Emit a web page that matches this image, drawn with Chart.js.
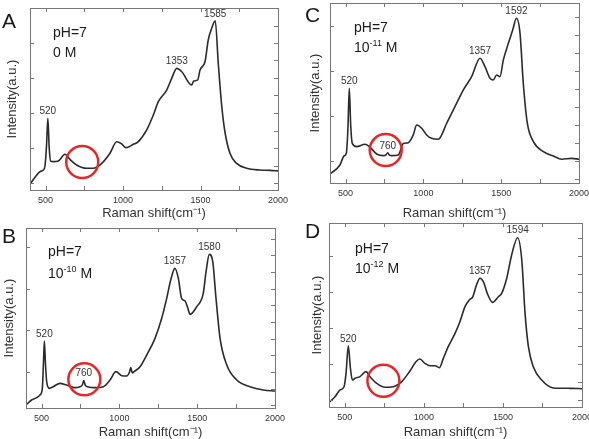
<!DOCTYPE html>
<html>
<head>
<meta charset="utf-8">
<script src="https://cdn.jsdelivr.net/npm/chart.js@4.4.1/dist/chart.umd.min.js"></script>
<style>
  body { margin: 0; background: #fff; font-family: "Liberation Sans", Arial, sans-serif; }
  #fig { position: relative; width: 589px; height: 439px; overflow: hidden; background: #fff; }
  .panel { position: absolute; }
  .lbl { position: absolute; line-height: 1; color: #1a1a1a; white-space: nowrap; }
  .letter { font-size: 21px; }
  .note { font-size: 14px; }
  .note sup { font-size: 9px; vertical-align: baseline; position: relative; top: -6px; }
</style>
</head>
<body>
<div id="fig">
  <div class="panel" style="left:0;top:0;width:289px;height:220px"><canvas id="chartA"></canvas></div>
  <div class="panel" style="left:290px;top:0;width:299px;height:220px"><canvas id="chartC"></canvas></div>
  <div class="panel" style="left:0;top:220px;width:289px;height:219px"><canvas id="chartB"></canvas></div>
  <div class="panel" style="left:290px;top:220px;width:299px;height:219px"><canvas id="chartD"></canvas></div>

  <div class="lbl letter" style="left:2px;top:10px">A</div>
  <div class="lbl note" style="left:53px;top:25px">pH=7</div>
  <div class="lbl note" style="left:53px;top:45px">0 M</div>

  <div class="lbl letter" style="left:305px;top:4px">C</div>
  <div class="lbl note" style="left:354px;top:20px">pH=7</div>
  <div class="lbl note" style="left:354px;top:40px">10<sup>-11</sup> M</div>

  <div class="lbl letter" style="left:2px;top:225px">B</div>
  <div class="lbl note" style="left:48px;top:244px">pH=7</div>
  <div class="lbl note" style="left:48px;top:266px">10<sup>-10</sup> M</div>

  <div class="lbl letter" style="left:305px;top:220px">D</div>
  <div class="lbl note" style="left:355px;top:241px">pH=7</div>
  <div class="lbl note" style="left:355px;top:261px">10<sup>-12</sup> M</div>
</div>
<script>
// Raman shift (cm-1) and intensity (a.u.)
const shiftA = [400,465,486,497,507,515,524,533,550,583,626,658,701,766,808,852,916,959,992,1019,1067,1099,1153,1196,1228,1282,1314,1347,1379,1443,1456,1482,1497,1529,1550,1572,1595,1615,1637,1658,1690,1733,1798,1884,1950,2000];
const intA = [-0.6,6.5,7.4,10,22,37,20,12.5,12.2,12.6,16.4,13.5,10.3,8.4,8.4,10.3,17,23.6,22.3,20.2,22.1,23.6,30.3,38.9,46.5,53.1,59.8,65.5,63.6,56,58.3,58.9,64.6,69.3,81.7,88.4,92.7,68,44,29,17,11.2,8.4,7.4,7.2,6.9];

const shiftB = [400,436,469,490,505,512,518,525,533,550,575,618,661,715,747,762,771,782,794,843,897,940,978,1015,1047,1065,1073,1083,1094,1133,1176,1229,1272,1304,1330,1357,1379,1400,1422,1437,1454,1497,1539,1557,1578,1600,1621,1647,1690,1754,1839,1925,2000];
const intB = [-19.8,-16.8,-15.4,-13.8,-9.8,5,18.6,5,-5.8,-9.8,-8.8,-6.8,-7.8,-9.4,-8.8,-7.8,-5.2,-8.2,-8.8,-9.4,-8.8,-4.8,0.2,-2.2,-2.4,0,2.6,-0.5,0.2,3.2,10.2,20.2,32.2,44.2,55.2,62.2,56.2,44.2,42.6,39.2,34.6,39.2,47.2,60.2,70.6,66.2,44.2,20.2,4.2,-4.8,-8.8,-10.8,-11.4];

const shiftC = [400,464,490,505,515,524,533,543,571,625,653,700,743,760,771,783,796,839,871,903,935,957,989,1021,1053,1096,1150,1203,1257,1310,1364,1396,1428,1449,1471,1492,1514,1546,1574,1598,1621,1642,1668,1707,1771,1835,1889,1953,2000];
const intC = [-7,-2,3,4.5,18,40.6,20,10,8.2,9.5,8.2,4.1,3.2,3.6,4.8,3.4,3.2,3.6,10,10.4,14.7,20.2,18.4,14.7,12.8,12.3,21.2,30.4,39.7,47.1,57.3,52.6,46.2,45.2,48,47.1,56.4,65.6,73,79.5,71.2,43.4,21.2,11,5.4,3,1.2,1.7,1.2];

const shiftD = [400,438,470,495,508,522,535,548,565,596,634,659,702,754,807,860,912,950,975,1007,1039,1070,1098,1123,1154,1197,1228,1260,1287,1309,1334,1355,1376,1401,1435,1471,1492,1524,1555,1593,1619,1640,1661,1692,1745,1819,1926,2000];
const intD = [-1.4,1.7,5.5,7.3,15,30.1,18,11,12,12.9,15.7,12.9,9.2,7,7.3,10.1,16.1,21.2,22.7,20.3,19,19,17.9,23.1,29.6,37,43.5,51.9,55.6,57.4,64.3,67.7,65.8,59.3,54.3,57.4,59.3,67.7,80.7,90.3,78,48,29.6,18.4,11,6.6,6.4,6.2];

// peak labels and the red circle (x, intensity) per panel
const peaksA = [520, 1353, 1585];
const peaksB = [520, 760, 1357, 1580];
const peaksC = [520, 760, 1357, 1592];
const peaksD = [520, 1357, 1594];
const circleA = [737, 12];
const circleB = [775, -4.4];
const circleC = [758, 6.3];
const circleD = [744, 10.6];

const xLabels = [500, 1000, 1500, 2000];
const xMarks = [500, 750, 1000, 1250, 1500, 1750];

const FONT = '"Liberation Sans", Arial, sans-serif';

function framePlugin(leftTicks) {
  return {
    id: 'frame',
    afterDraw(chart) {
      const { ctx, chartArea: a, scales: { x, y } } = chart;
      ctx.save();
      ctx.strokeStyle = '#777';
      ctx.lineWidth = 1;
      ctx.strokeRect(Math.round(a.left) + 0.5, Math.round(a.top) + 0.5, Math.round(a.width), Math.round(a.height));
      ctx.beginPath();
      xMarks.forEach(v => {
        const px = Math.round(x.getPixelForValue(v)) + 0.5;
        ctx.moveTo(px, a.bottom); ctx.lineTo(px, a.bottom - 4);
        ctx.moveTo(px, a.top); ctx.lineTo(px, a.top + 4);
      });
      leftTicks.forEach(v => {
        const py = Math.round(y.getPixelForValue(v)) + 0.5;
        ctx.moveTo(a.left, py); ctx.lineTo(a.left + 4, py);
      });
      for (let v = Math.ceil(y.min / 10) * 10; v < y.max; v += 10) {
        const py = Math.round(y.getPixelForValue(v)) + 0.5;
        ctx.moveTo(a.right, py); ctx.lineTo(a.right - 4, py);
      }
      ctx.stroke();
      ctx.restore();
    }
  };
}

function markPlugin(peaks, circle) {
  return {
    id: 'marks',
    afterDraw(chart) {
      const { ctx, scales: { x, y } } = chart;
      const pts = chart.data.datasets[0].data;
      ctx.save();
      ctx.font = '10px ' + FONT;
      ctx.fillStyle = '#333';
      ctx.textAlign = 'center';
      ctx.textBaseline = 'bottom';
      peaks.forEach(p => {
        let best = null;
        pts.forEach(d => {
          if (Math.abs(d.x - p) <= 20 && (!best || d.y > best.y)) best = d;
        });
        ctx.fillText(String(p), x.getPixelForValue(best.x), y.getPixelForValue(best.y) - 2);
      });
      ctx.beginPath();
      ctx.arc(x.getPixelForValue(circle[0]), y.getPixelForValue(circle[1]), 16, 0, Math.PI * 2);
      ctx.strokeStyle = '#e6262b';
      ctx.lineWidth = 2.5;
      ctx.stroke();
      ctx.restore();
    }
  };
}

function makePanel(id, shift, inten, peaks, circle, cfg) {
  return new Chart(document.getElementById(id), {
    type: 'line',
    data: {
      datasets: [{
        data: shift.map((s, i) => ({ x: s, y: inten[i] })),
        borderColor: '#2b2b2b',
        borderWidth: 1.6,
        pointRadius: 0,
        cubicInterpolationMode: 'monotone'
      }]
    },
    options: {
      responsive: true,
      maintainAspectRatio: false,
      animation: false,
      layout: { padding: { top: cfg.padTop, right: cfg.padRight, left: 0, bottom: 0 } },
      plugins: { legend: { display: false }, tooltip: { enabled: false } },
      scales: {
        x: {
          type: 'linear',
          min: 400,
          max: 2000,
          afterBuildTicks: s => { s.ticks = xLabels.map(v => ({ value: v })); },
          afterFit: s => { s.height = cfg.xH; s.paddingLeft = 0; s.paddingRight = 0; },
          grid: { display: false, drawTicks: false },
          border: { display: false },
          ticks: {
            color: '#333',
            font: { size: 9, family: FONT },
            padding: 5,
            maxRotation: 0,
            autoSkip: false,
            callback: v => String(v)
          },
          title: {
            display: true,
            text: 'Raman shift(cm\u207B\u00B9)',
            color: '#333',
            font: { size: 13, family: FONT, lineHeight: 1 },
            padding: { top: cfg.xTitlePad, bottom: 0 }
          }
        },
        y: {
          min: cfg.yMin,
          max: cfg.yMax,
          afterFit: s => { s.width = cfg.yW; },
          grid: { display: false, drawTicks: false },
          border: { display: false },
          ticks: { display: false },
          title: {
            display: true,
            text: 'Intensity(a.u.)',
            color: '#333',
            font: { size: 13, family: FONT, lineHeight: 1 },
            padding: { top: cfg.yTitlePad, bottom: 0 }
          }
        }
      }
    },
    plugins: [framePlugin(cfg.leftTicks), markPlugin(peaks, circle)]
  });
}

makePanel('chartA', shiftA, intA, peaksA, circleA,
  { padTop: 8, padRight: 11, yW: 30, xH: 30, xTitlePad: 4.5, yTitlePad: 6, yMin: -4, yMax: 100, leftTicks: [0, 20, 40, 60, 80] });
makePanel('chartC', shiftC, intC, peaksC, circleC,
  { padTop: 3, padRight: 10, yW: 40, xH: 37, xTitlePad: 4.5, yTitlePad: 18.5, yMin: -12, yMax: 88, leftTicks: [0, 25, 50, 75] });
makePanel('chartB', shiftB, intB, peaksB, circleB,
  { padTop: 8, padRight: 14, yW: 26, xH: 31, xTitlePad: 0, yTitlePad: 2.5, yMin: -21.6, yMax: 86.4, leftTicks: [0, 25, 50, 75] });
makePanel('chartD', shiftD, intD, peaksD, circleD,
  { padTop: 3, padRight: 7, yW: 39, xH: 32, xTitlePad: 0, yTitlePad: 20.5, yMin: -4, yMax: 98.5, leftTicks: [0, 20, 40, 60, 80] });
</script>
</body>
</html>
